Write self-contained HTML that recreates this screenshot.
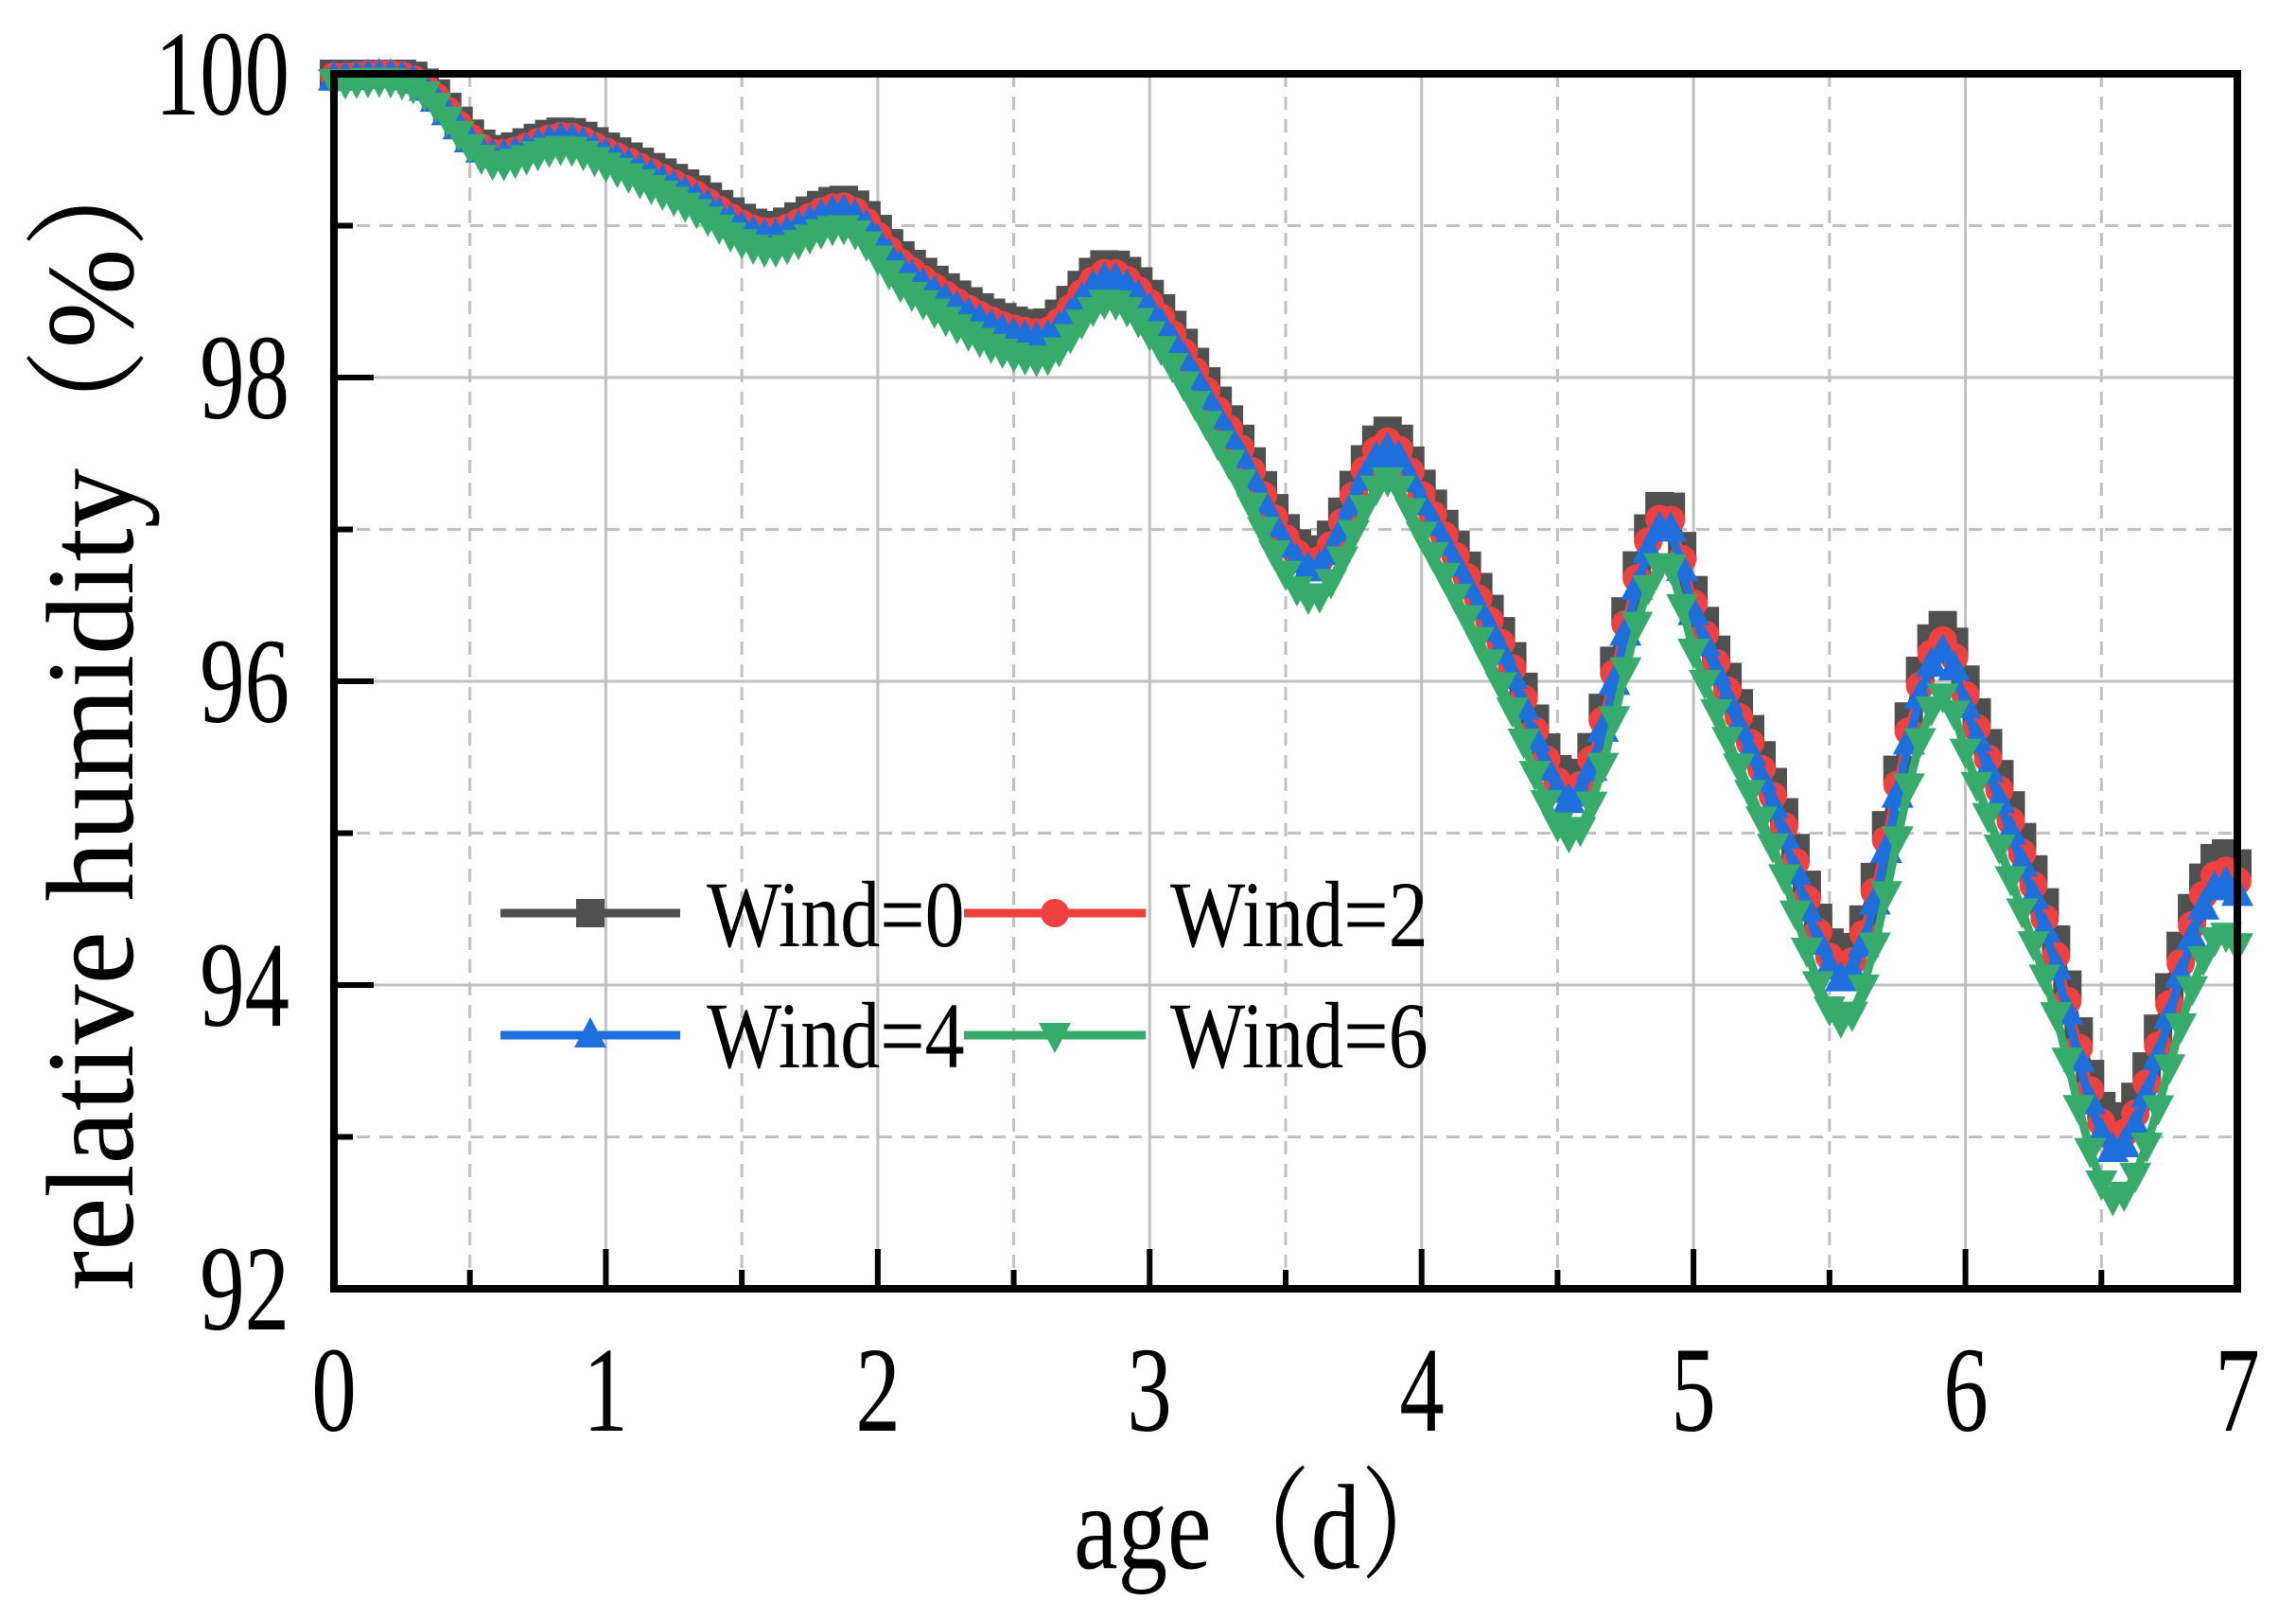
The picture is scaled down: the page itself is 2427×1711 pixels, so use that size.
<!DOCTYPE html>
<html><head><meta charset="utf-8"><style>
html,body{margin:0;padding:0;background:#fff;}
svg{display:block;}
text{font-family:"Liberation Serif","Noto Serif CJK SC",serif;fill:#000;}
</style></head><body>
<svg id="s" width="2427" height="1711" viewBox="0 0 2427 1711" xmlns="http://www.w3.org/2000/svg">
<g id="grid"></g>
<g id="data"></g>
<g id="axes"></g>
<g font-size="128" text-anchor="end">
<text transform="translate(306,121) scale(0.74,1)">100</text>
<text transform="translate(306,442) scale(0.74,1)">98</text>
<text transform="translate(306,763) scale(0.74,1)">96</text>
<text transform="translate(306,1084) scale(0.74,1)">94</text>
<text transform="translate(306,1405) scale(0.74,1)">92</text>
</g>
<g font-size="128" text-anchor="middle">
<text transform="translate(353,1512) scale(0.74,1)">0</text>
<text transform="translate(640,1512) scale(0.74,1)">1</text>
<text transform="translate(928,1512) scale(0.74,1)">2</text>
<text transform="translate(1215,1512) scale(0.74,1)">3</text>
<text transform="translate(1503,1512) scale(0.74,1)">4</text>
<text transform="translate(1790,1512) scale(0.74,1)">5</text>
<text transform="translate(2078,1512) scale(0.74,1)">6</text>
<text transform="translate(2365,1512) scale(0.74,1)">7</text>
</g>
<text transform="translate(1339,1657) scale(0.82,1)" font-size="128" text-anchor="middle">age（d）</text>
<text transform="translate(140,750) rotate(-90) scale(0.96,1)" font-size="132" text-anchor="middle">relative humidity（%）</text>
<g id="leg"></g>
<g font-size="100">
<text transform="translate(747,1000) scale(0.84,1)">Wind=0</text>
<text transform="translate(1237,1000) scale(0.84,1)">Wind=2</text>
<text transform="translate(747,1128) scale(0.84,1)">Wind=4</text>
<text transform="translate(1237,1128) scale(0.84,1)">Wind=6</text>
</g>
</svg>
<script>
const X0=353,X1=2365,Y100=78,Y92=1362;
const sx=t=>X0+(X1-X0)*t/7, sy=v=>Y100+(100-v)*(Y92-Y100)/8;
const NS="http://www.w3.org/2000/svg";
function el(p,tag,a){const e=document.createElementNS(NS,tag);for(const k in a)e.setAttribute(k,a[k]);p.appendChild(e);return e;}
const g=document.getElementById('grid'),ax=document.getElementById('axes');
for(let i=1;i<14;i++){const x=sx(i/2);el(g,'line',{x1:x,x2:x,y1:Y100,y2:Y92,stroke:'#c0c0c0','stroke-width':3,'stroke-dasharray':i%2?'14,10':''});}
for(let v=93;v<100;v++){const y=sy(v);el(g,'line',{x1:X0,x2:X1,y1:y,y2:y,stroke:'#c0c0c0','stroke-width':3,'stroke-dasharray':v%2?'14,10':''});}
el(ax,'rect',{x:X0,y:Y100,width:X1-X0,height:Y92-Y100,fill:'none',stroke:'#000','stroke-width':8});
for(let i=1;i<14;i++){const x=sx(i/2);el(ax,'line',{x1:x,x2:x,y1:Y92,y2:Y92-(i%2?20:42),stroke:'#000','stroke-width':6});}
for(let v=93;v<100;v++){const y=sy(v);el(ax,'line',{x1:X0,x2:X0+(v%2?20:42),y1:y,y2:y,stroke:'#000','stroke-width':6});}
const K=[[0,100],[0.3,99.98],[0.6,99.5],[0.85,99.62],[1.0,99.52],[1.3,99.27],[1.6,99.0],[1.87,99.17],[2.1,98.78],[2.6,98.35],[2.85,98.75],[3.0,98.55],[3.3,97.7],[3.6,96.85],[3.88,97.65],[4.0,97.3],[4.3,96.3],[4.55,95.35],[4.9,97.18],[5.0,96.6],[5.3,95.3],[5.55,94.2],[5.92,96.37],[6.02,95.9],[6.3,94.5],[6.55,93.1],[6.95,94.87],[7.0,94.8]];
function mono(P){const n=P.length,d=[],m=[];for(let i=0;i<n-1;i++)d.push((P[i+1][1]-P[i][1])/(P[i+1][0]-P[i][0]));
m[0]=d[0];m[n-1]=d[n-2];for(let i=1;i<n-1;i++){m[i]=(d[i-1]*d[i]<=0)?0:(d[i-1]+d[i])/2;}
return t=>{let i=0;while(i<n-2&&t>P[i+1][0])i++;const h=P[i+1][0]-P[i][0],s=(t-P[i][0])/h;
const h00=2*s*s*s-3*s*s+1,h10=s*s*s-2*s*s+s,h01=-2*s*s*s+3*s*s,h11=s*s*s-s*s;
return h00*P[i][1]+h10*h*m[i]+h01*P[i+1][1]+h11*h*m[i+1];};}
const f=mono(K);
const S=[{c:'#505050',o:0,m:'sq'},{c:'#ef4040',o:0.07,m:'ci'},{c:'#1f6fdc',o:0.12,m:'tu'},{c:'#36ab6b',o:0.2,m:'td'}];
const dg=document.getElementById('data');
function marker(p,type,x,y,c){const r=15;
if(type==='sq')el(p,'rect',{x:x-r,y:y-r,width:2*r,height:2*r,fill:c});
else if(type==='ci')el(p,'circle',{cx:x,cy:y,r:r,fill:c});
else if(type==='tu')el(p,'polygon',{points:`${x},${y-19} ${x-17},${y+13} ${x+17},${y+13}`,fill:c});
else el(p,'polygon',{points:`${x},${y+19} ${x-17},${y-13} ${x+17},${y-13}`,fill:c});}
S.forEach((s,k)=>{const pts=[];for(let i=0;i<=168;i++){const t=i/24;let v=f(t)-s.o*(0.25+t*0.2)-(k===3?0.03*t:0);if(v>100)v=100;pts.push([sx(t),sy(v)]);}
el(dg,'polyline',{points:pts.map(p=>p.join(',')).join(' '),fill:'none',stroke:s.c,'stroke-width':9});
pts.forEach(p=>marker(dg,s.m,p[0],p[1],s.c));});
const lg=document.getElementById('leg');
[[529,719,965,0],[1019,1211,965,1],[529,719,1094,2],[1019,1211,1094,3]].forEach(a=>{const s=S[a[3]];
el(lg,'line',{x1:a[0],x2:a[1],y1:a[2],y2:a[2],stroke:s.c,'stroke-width':9});marker(lg,s.m,(a[0]+a[1])/2,a[2],s.c);});
</script>
</body></html>
